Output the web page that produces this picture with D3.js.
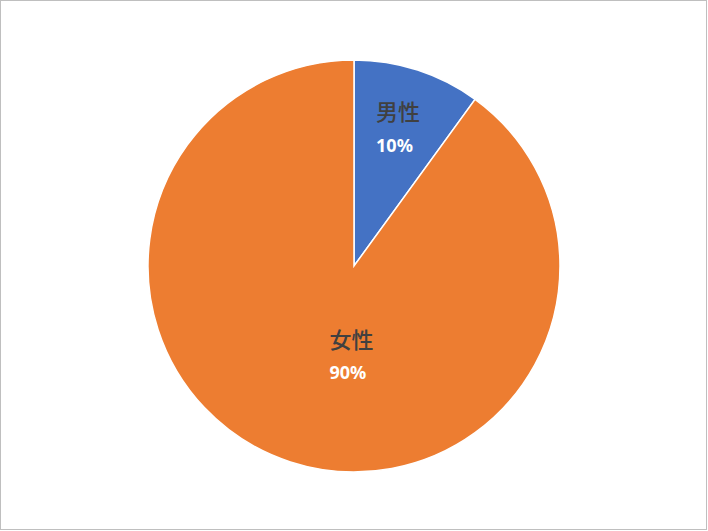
<!DOCTYPE html>
<html><head><meta charset="utf-8">
<script src="https://cdn.jsdelivr.net/npm/d3@7"></script>
<style>html,body{margin:0;padding:0;background:#fff;}</style>
</head><body>
<svg id="c" width="708" height="531"></svg>
<script>
const categories = ["男性", "女性"];
const values = [10, 90];
const percentLabels = ["10%", "90%"];
const colors = ["#4472C4", "#ED7D31"];

const W = 708, H = 531;
const svg = d3.select("#c");
svg.append("rect").attr("x", 0.5).attr("y", 0.5).attr("width", W - 2).attr("height", H - 2)
  .attr("fill", "#fff").attr("stroke", "#bfbfbf").attr("stroke-width", 1);

const cx = 354, cy = 266, R = 206;
const g = svg.append("g").attr("transform", `translate(${cx},${cy})`);
const pie = d3.pie().sort(null).value(d => d)(values);
const arc = d3.arc().innerRadius(0).outerRadius(R);
const color = d3.scaleOrdinal().domain(categories).range(colors);

g.selectAll("path").data(pie).join("path")
  .attr("d", arc)
  .attr("fill", (d, i) => color(categories[i]))
  .attr("stroke", "#fff").attr("stroke-width", 1.5);

const labelArc = d3.arc().innerRadius(R * 0.7).outerRadius(R * 0.7);
pie.forEach((d, i) => {
  let [x, y] = labelArc.centroid(d);
  if (d.endAngle - d.startAngle > Math.PI) { x = -2; y = R * 0.444; }
  const lg = g.append("g").attr("transform", `translate(${x - 22.5},${y})`);
  lg.append("text").attr("x", 0).attr("y", -17).attr("dy", "0.36em")
    .attr("font-family", "'Noto Sans CJK JP'").attr("font-weight", 500).attr("font-size", 22)
    .attr("fill", "#404040").text(categories[i]);
  lg.append("text").attr("x", 0).attr("y", i === 0 ? 17 : 15).attr("dy", "0.36em")
    .attr("font-family", "'Noto Sans', sans-serif").attr("font-weight", "bold").attr("font-size", 18)
    .attr("fill", "#fff").text(percentLabels[i]);
});
</script>
</body></html>
